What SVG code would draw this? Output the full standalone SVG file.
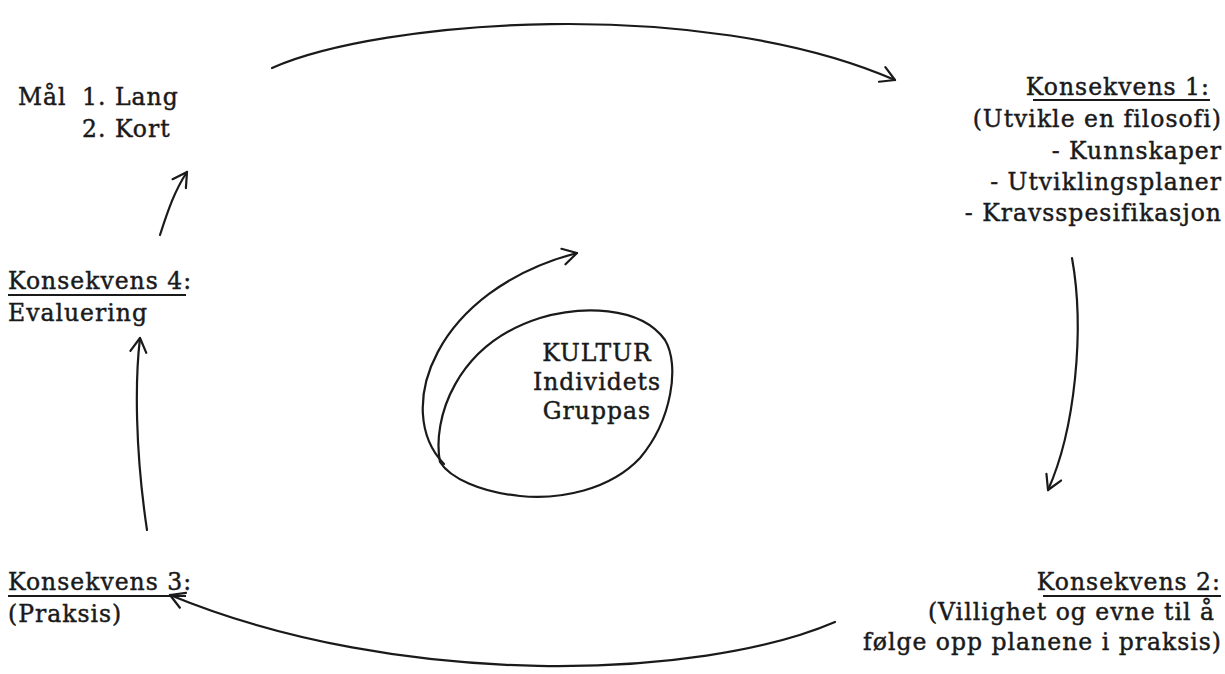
<svg xmlns="http://www.w3.org/2000/svg" width="1225" height="674" viewBox="0 0 1225 674">
<style>
text{font-family:"DejaVu Serif","Liberation Serif",serif;font-size:23.5px;letter-spacing:1px;fill:#1a1a1a;stroke:#1a1a1a;stroke-width:0.45}
.r{text-anchor:end}
.c{text-anchor:middle}
.ul{stroke:#1a1a1a;stroke-width:2}
.ln{fill:none;stroke:#1a1a1a;stroke-width:2.2;stroke-linecap:round}
</style>
<defs>
<marker id="ah" markerUnits="userSpaceOnUse" markerWidth="30" markerHeight="30" refX="18" refY="10" orient="auto">
<path d="M4,2 L18,10 L4,18" fill="none" stroke="#1a1a1a" stroke-width="2.2" stroke-linecap="round" stroke-linejoin="round"/>
</marker>
</defs>
<rect width="1225" height="674" fill="#fff"/>
<g id="mal">
<text x="18" y="105">Mål</text>
<text x="82" y="105">1. Lang</text>
<text x="82" y="137">2. Kort</text>
</g>
<g id="konsekvens1">
<text class="r" x="1210" y="95">Konsekvens 1:</text>
<line class="ul" x1="1033" y1="100" x2="1210" y2="100"/>
<text class="r" x="1222" y="127">(Utvikle en filosofi)</text>
<text class="r" x="1222" y="159">- Kunnskaper</text>
<text class="r" x="1222" y="190">- Utviklingsplaner</text>
<text class="r" x="1222" y="221">- Kravsspesifikasjon</text>
</g>
<g id="konsekvens2">
<text class="r" x="1221" y="590">Konsekvens 2:</text>
<line class="ul" x1="1043" y1="596" x2="1221" y2="596"/>
<text class="r" x="1215" y="620">(Villighet og evne til å</text>
<text class="r" x="1222" y="650">følge opp planene i praksis)</text>
</g>
<g id="konsekvens3">
<text x="8" y="590">Konsekvens 3:</text>
<line class="ul" x1="8" y1="596" x2="186" y2="596"/>
<text x="8" y="622">(Praksis)</text>
</g>
<g id="konsekvens4">
<text x="8" y="289">Konsekvens 4:</text>
<line class="ul" x1="8" y1="295" x2="186" y2="295"/>
<text x="8" y="321">Evaluering</text>
</g>
<g id="kultur">
<path class="ln" d="M440,462 C432,420 455,345 540,318 C580,306 640,305 665,340 C680,365 672,420 640,458 C610,490 560,500 520,496 C480,492 450,478 440,462 Z"/>
<text class="c" x="597" y="361">KULTUR</text>
<text class="c" x="597" y="390">Individets</text>
<text class="c" x="597" y="419">Gruppas</text>
</g>
<g id="connectors">
<path class="ln" marker-end="url(#ah)" d="M272,68 C380,20 700,-5 895,80"/>
<path class="ln" marker-end="url(#ah)" d="M1072,258 C1085,330 1075,430 1048,490"/>
<path class="ln" marker-end="url(#ah)" d="M835,622 C700,680 400,690 170,595"/>
<path class="ln" marker-end="url(#ah)" d="M147,530 C135,450 135,380 140,338"/>
<path class="ln" marker-end="url(#ah)" d="M160,235 C168,210 175,190 187,172"/>
<path class="ln" marker-end="url(#ah)" d="M444,464 C392,410 435,290 577,253"/>
</g>
</svg>
